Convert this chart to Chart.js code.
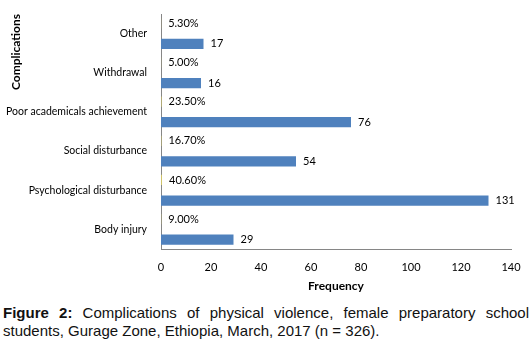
<!DOCTYPE html>
<html>
<head>
<meta charset="utf-8">
<script src="https://cdn.jsdelivr.net/npm/chart.js@4.4.1/dist/chart.umd.min.js"></script>
<style>
  body { margin: 0; background: #fff; }
  #wrap { position: relative; width: 532px; height: 345px; }
  #chart { position: absolute; left: 0; top: 0; }
  #caption {
    position: absolute; left: 3px; top: 304px; width: 526px;
    font-family: "Liberation Sans", Arial, sans-serif; font-size: 15px; line-height: 18px;
    text-align: justify; text-align-last: left; color: #111;
  }
</style>
</head>
<body>
<div id="wrap">
  <canvas id="chart" width="532" height="300"></canvas>
  <div id="caption"><b>Figure 2:</b> Complications of physical violence, female preparatory school students, Gurage Zone, Ethiopia, March, 2017 (n = 326).</div>
</div>
<script>
const categories = [
  "Other",
  "Withdrawal",
  "Poor academicals achievement",
  "Social disturbance",
  "Psychological disturbance",
  "Body injury",
];
// share is stored as a fraction, that's why the bars are almost invisible
const percentShare = [0.053, 0.05, 0.235, 0.167, 0.406, 0.09];
const frequency = [17, 16, 76, 54, 131, 29];
const xTicks = [0, 20, 40, 60, 80, 100, 120, 140];

const labelFont = "11px Lato, sans-serif";

// writes the value just right of each bar end
const barLabels = {
  id: "barLabels",
  afterDatasetsDraw(chart) {
    const ctx = chart.ctx;
    ctx.save();
    ctx.font = labelFont;
    ctx.fillStyle = "#000";
    ctx.textBaseline = "middle";
    ctx.textAlign = "left";
    chart.data.datasets.forEach((ds, i) => {
      chart.getDatasetMeta(i).data.forEach((bar, j) => {
        const v = ds.data[j];
        const txt = i === 0 ? (v * 100).toFixed(2) + "%" : String(v);
        ctx.fillText(txt, bar.x + 7, bar.y);
      });
    });
    ctx.restore();
  },
};

new Chart(document.getElementById("chart").getContext("2d"), {
  type: "bar",
  data: {
    labels: categories,
    datasets: [
      {
        label: "Percent",
        data: percentShare,
        backgroundColor: "#CFC36A",
        categoryPercentage: 1.05,
        barPercentage: 0.5,
      },
      {
        label: "Frequency",
        data: frequency,
        backgroundColor: "#4F81BD",
        categoryPercentage: 1.05,
        barPercentage: 0.5,
      },
    ],
  },
  options: {
    indexAxis: "y",
    responsive: false,
    animation: false,
    layout: { padding: { left: 0, right: 21, top: 14, bottom: 0 } },
    plugins: {
      legend: { display: false },
      tooltip: { enabled: false },
    },
    scales: {
      x: {
        min: 0,
        max: 140,
        afterBuildTicks: (scale) => {
          scale.ticks = xTicks.map((v) => ({ value: v }));
        },
        afterFit: (scale) => {
          scale.height = 51;
        },
        grid: { display: false },
        border: { display: true, color: "#868686", width: 1 },
        ticks: {
          color: "#000",
          padding: 4,
          maxRotation: 0,
          font: { family: "Lato", size: 11 },
        },
        title: {
          display: true,
          text: "Frequency",
          color: "#000",
          font: { family: "Lato", size: 12, weight: "bold" },
          padding: { top: 0, bottom: 7 },
        },
      },
      y: {
        afterFit: (scale) => {
          scale.width = 161;
        },
        grid: { display: false },
        border: { display: true, color: "#868686", width: 1 },
        ticks: {
          color: "#000",
          padding: 6,
          font: { family: "Lato", size: 10.5 },
        },
        title: {
          display: true,
          text: "Complications",
          align: "end",
          color: "#000",
          font: { family: "Lato", size: 12, weight: "bold" },
          padding: { top: 9, bottom: 0 },
        },
      },
    },
  },
  plugins: [barLabels],
});
</script>
</body>
</html>
